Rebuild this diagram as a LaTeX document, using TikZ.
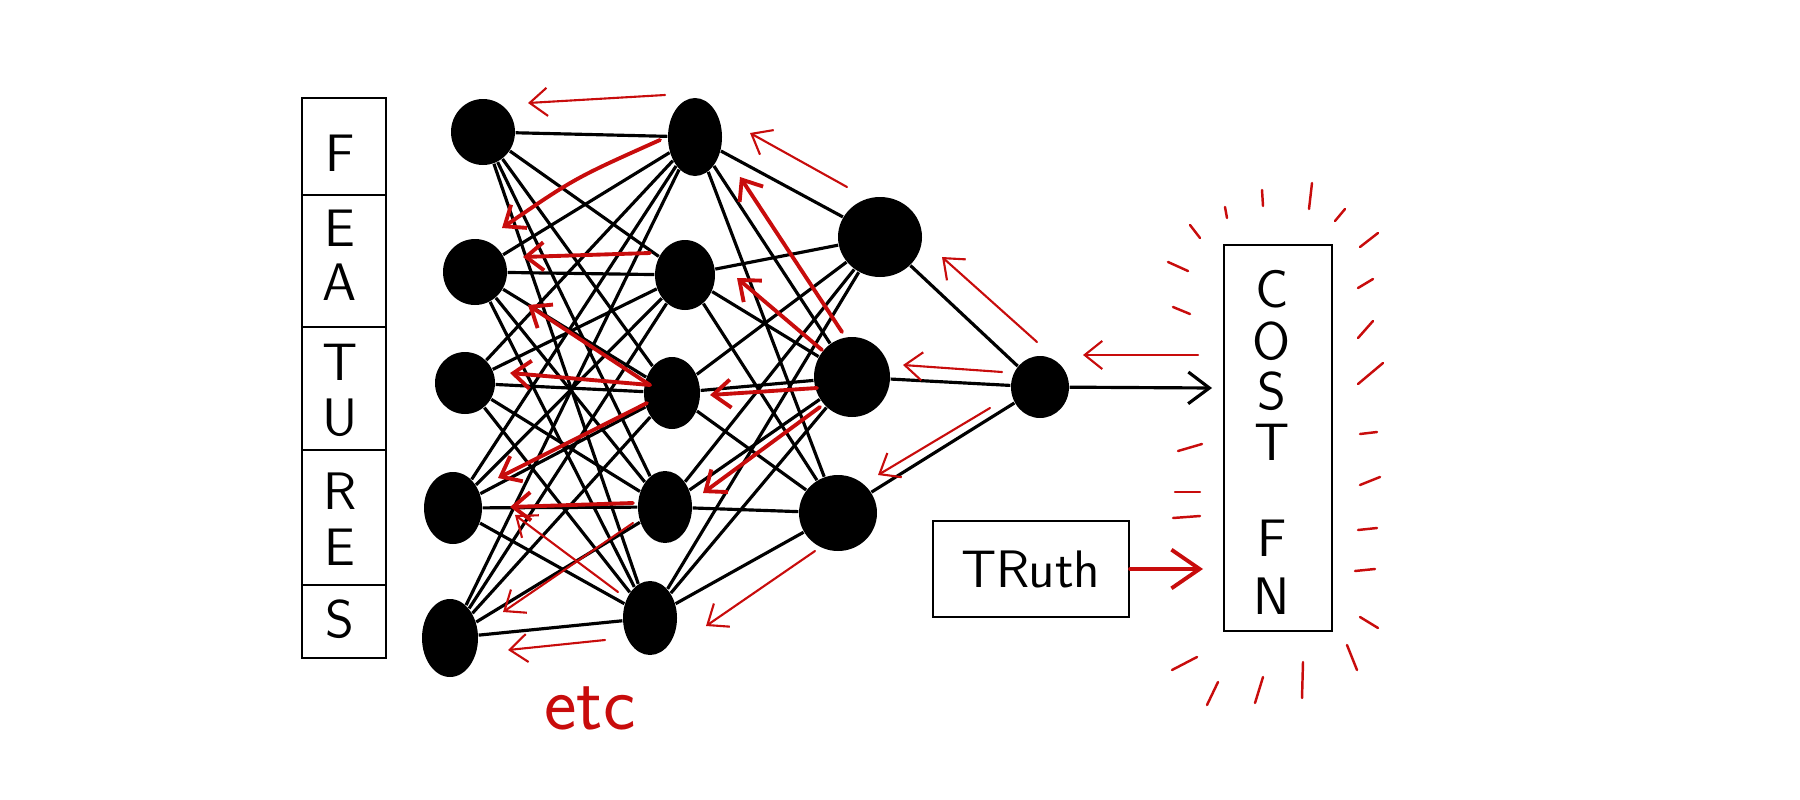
\documentclass[tikz,border=0pt]{standalone}
\usepackage{xcolor}
\usepackage{tikz}
\usetikzlibrary{arrows.meta,shapes.geometric}

\definecolor{inkred}{RGB}{200,12,12}

\begin{document}
\begin{tikzpicture}[
        x=0.01cm, y=-0.01cm,
        font=\sffamily\fontsize{18}{20}\selectfont,
        neuron/.style={ellipse, fill=black, inner sep=0pt},
        wire/.style={line width=0.9pt},
        box/.style={draw, line width=0.6pt, inner sep=0pt},
        letter/.style={inner sep=0pt, font=\sffamily\fontsize{15}{17}\selectfont},
        back/.style={-{Straight Barb[length=5pt, width=8pt]}, inkred, line width=0.6pt, line cap=round},
        backthick/.style={back, line width=1.1pt},
        glow/.style={inkred, line width=0.7pt, line cap=round}
    ]
    \useasboundingbox (0,0) rectangle (1800,800);

    % neurons: input, two hidden layers, output
    \foreach \n/\x/\y/\w/\h in {a1/483/132/64/66, a2/475/272/64/66, a3/465/383/60/62, a4/453/508/58/72, a5/450/638/56/78,
            b1/695/137/54/78, b2/685/275/60/70, b3/672/393/56/72, b4/665/507/54/72, b5/650/618/54/74,
            c1/880/237/84/80, c2/852/377/76/80, c3/838/513/78/76, o/1040/387/58/62}
        \node[neuron, minimum width=\w*0.01cm, minimum height=\h*0.01cm] (\n) at (\x,\y) {};

    % weights
    \foreach \i in {1,...,5} {
        \foreach \j in {1,...,5} \draw[wire] (a\i) -- (b\j);
        \foreach \k in {1,2,3} \draw[wire] (b\i) -- (c\k);
    }
    \foreach \k in {1,2,3} \draw[wire] (c\k) -- (o);

    % features column
    \node[box, minimum width=0.84cm, minimum height=5.59cm] (feat) at (344,378) {};
    \foreach \y in {195,327,450,585} \draw[line width=0.6pt] (feat.west |- 0,\y) -- (feat.east |- 0,\y);
    \foreach \l/\y [count=\k] in {F/153, E/228, A/282, T/362, U/418, R/491, E/547, S/619}
        \node[letter] (f\k) at (340,\y) {\l};

    % cost function and truth
    \node[box, minimum width=1.08cm, minimum height=3.85cm] (cost) at (1278,438) {};
    \foreach \l/\y [count=\k] in {C/289, O/341, S/391, T/442, F/538, N/596}
        \node[letter] (s\k) at (1272,\y) {\l};
    \node[box, minimum width=1.96cm, minimum height=0.96cm, font=\sffamily\fontsize{15}{18}\selectfont] (truth) at (1031,569) {TRuth};

    \coordinate (costin) at (1212,388);
    \coordinate (truthin) at (1203,569);
    \draw[wire, -{Straight Barb[length=6pt, width=9pt]}] (o) -- (costin);
    \draw[backthick, -{Straight Barb[length=8pt, width=11pt]}] (truth) -- (truthin);

    % backward pass
    \draw[back] (1198,355) -- (1083,355);
    \draw[back] (1002,372) -- (903,365);
    \draw[back] (1037,342) -- (942,257);
    \draw[back] (990,408) -- (878,475);
    \draw[back] (847,187) -- (750,133);
    \draw[backthick] (842,332) -- (740,177);
    \draw[backthick] (822,350) -- (737,278);
    \draw[backthick] (817,388) -- (710,395);
    \draw[backthick] (820,407) -- (703,493);
    \draw[back] (815,551) -- (706,626);
    \draw[back] (665,95) -- (528,103);
    \draw[backthick] (660,140) .. controls (575,178) .. (502,228);
    \draw[backthick] (650,253) -- (523,257);
    \draw[backthick] (650,385) -- (528,305);
    \draw[backthick] (650,385) -- (510,373);
    \draw[backthick] (647,403) -- (498,478);
    \draw[backthick] (633,503) -- (510,507);
    \draw[back] (618,592) -- (515,515);
    \draw[back] (633,523) -- (503,612);
    \draw[back] (605,640) -- (508,650);

    \node[text=inkred, font=\sffamily\fontsize{22}{24}\selectfont] (etc) at (590,708) {etc};

    % glow round the cost box
    \foreach \p/\q in {{1225,207}/{1227,218}, {1262,190}/{1263,206}, {1312,183}/{1309,209}, {1345,209}/{1335,221},
            {1378,233}/{1360,247}, {1373,279}/{1358,288}, {1373,321}/{1358,338}, {1383,363}/{1358,384},
            {1377,432}/{1360,434}, {1380,477}/{1360,485}, {1377,528}/{1358,530}, {1375,569}/{1355,571},
            {1378,628}/{1360,617}, {1357,670}/{1347,645}, {1303,662}/{1302,698}, {1263,677}/{1255,703},
            {1218,682}/{1207,705}, {1197,657}/{1172,670}, {1200,238}/{1190,225}, {1188,271}/{1168,262},
            {1190,314}/{1173,307}, {1202,444}/{1178,451}, {1200,492}/{1175,492}, {1200,516}/{1173,518}}
        \draw[glow] (\p) -- (\q);
\end{tikzpicture}
\end{document}
